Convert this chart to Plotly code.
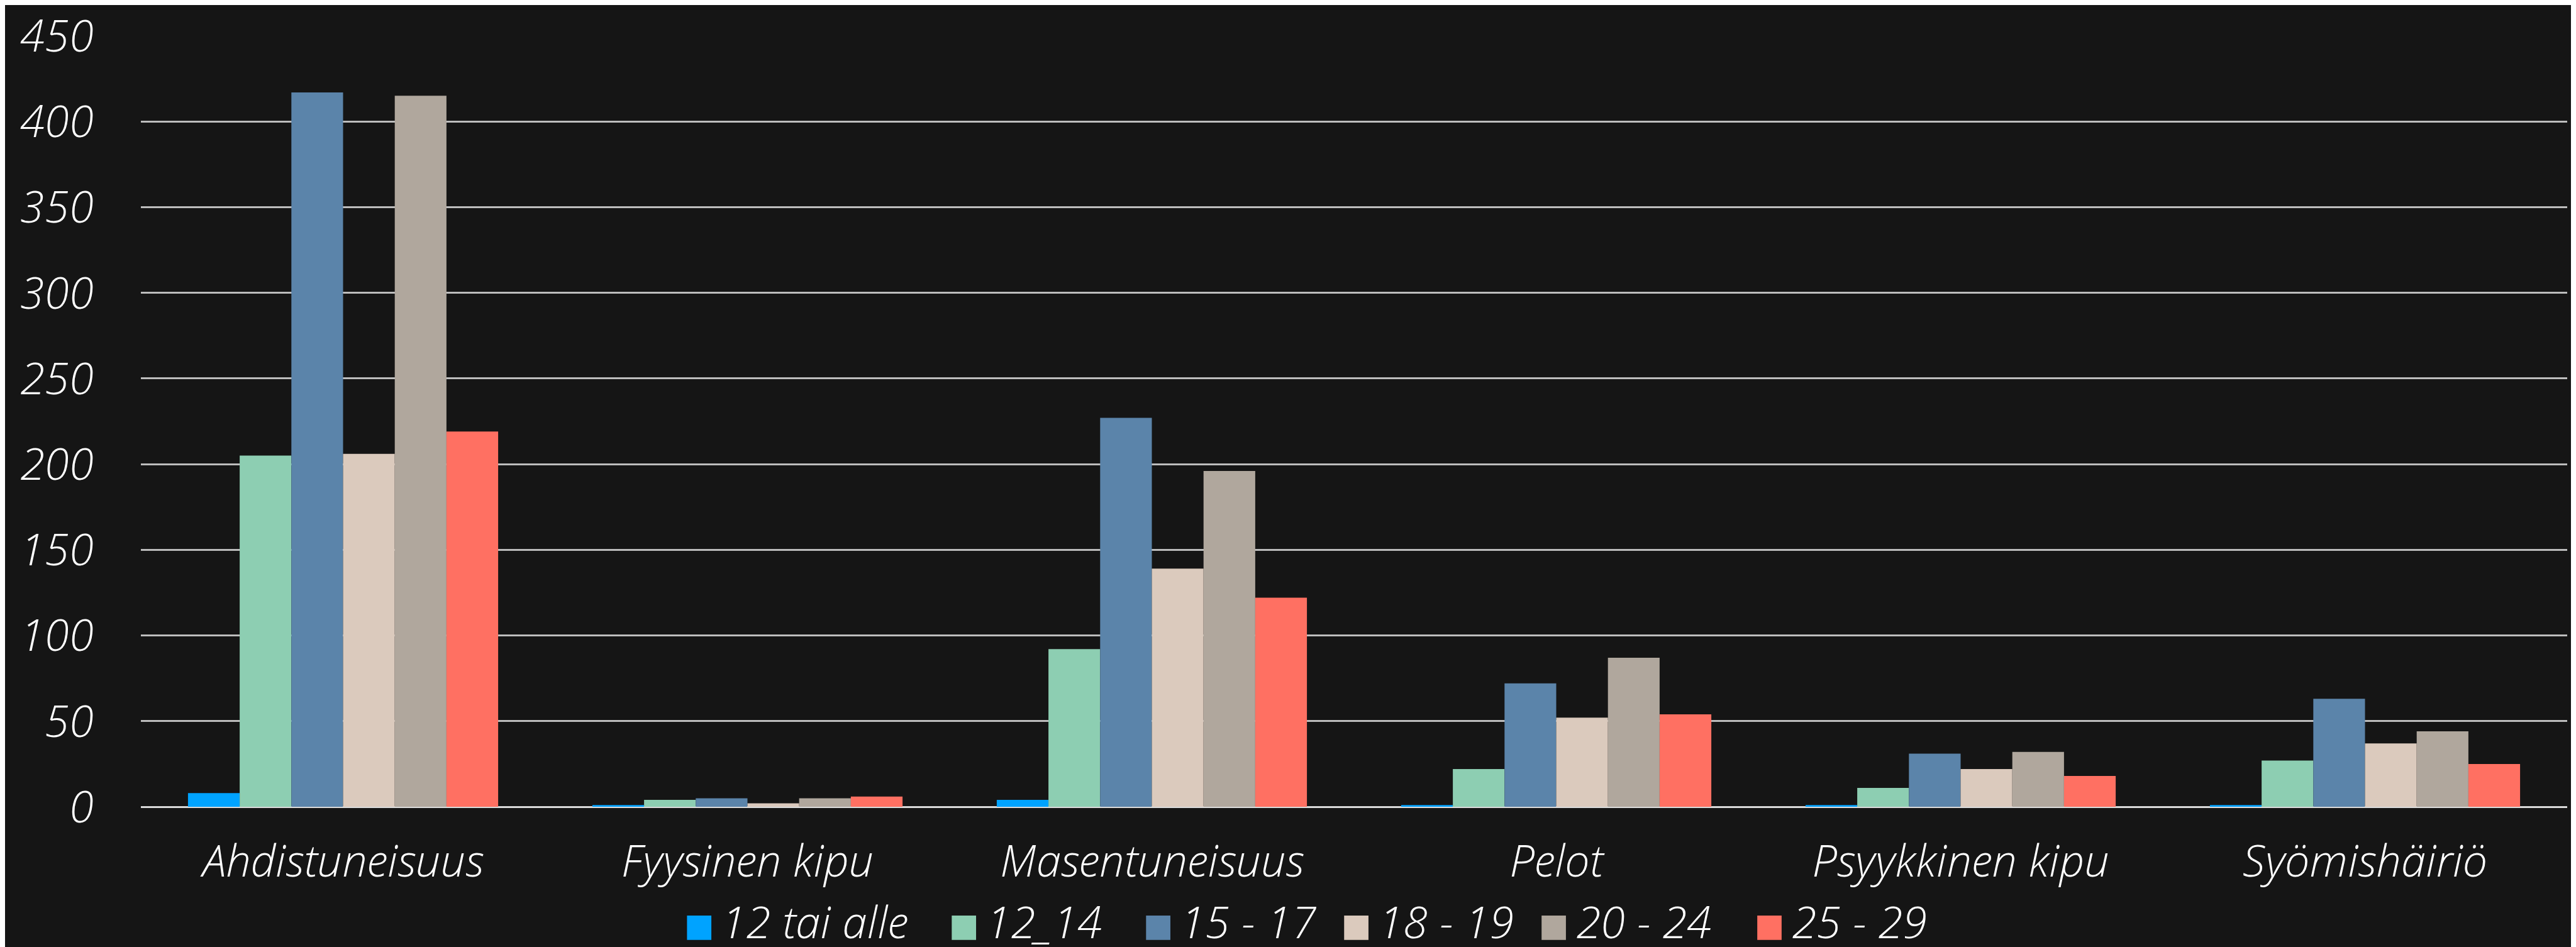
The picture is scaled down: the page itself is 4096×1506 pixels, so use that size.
import plotly.graph_objects as go

categories = ["Ahdistuneisuus", "Fyysinen kipu", "Masentuneisuus", "Pelot", "Psyykkinen kipu", "Syömishäiriö"]
series_names = ["12 tai alle", "12_14", "15 - 17", "18 - 19", "20 - 24", "25 - 29"]
s_12_tai_alle = [8, 1, 4, 1, 1, 1]
s_12_14 = [205, 4, 92, 22, 11, 27]
s_15_17 = [417, 5, 227, 72, 31, 63]
s_18_19 = [206, 2, 139, 52, 22, 37]
s_20_24 = [415, 5, 196, 87, 32, 44]
s_25_29 = [219, 6, 122, 54, 18, 25]
series_values = [s_12_tai_alle, s_12_14, s_15_17, s_18_19, s_20_24, s_25_29]
colors = ["#00A3FF", "#8DCEB2", "#5B84AA", "#DBCABD", "#B0A79D", "#FF7062"]
y_ticks = [0, 50, 100, 150, 200, 250, 300, 350, 400, 450]

W, H = 4096, 1506
ML, MR, MT, MB = 215.5, 22, 49, 231
FONT = dict(family="Open Sans Light, Open Sans, DejaVu Sans Condensed, sans-serif",
            size=71, color="#FFFFFF", style="italic", weight=300)

fig = go.Figure()
for name, vals, col in zip(series_names, series_values, colors):
    fig.add_trace(go.Bar(name=name, x=categories, y=vals, marker=dict(color=col, line=dict(width=0)),
                         showlegend=False))

# custom legend (large square swatches)
plot_w = W - ML - MR
plot_h = H - MT - MB
legend_swatch_px = [1084, 1505, 1814, 2129, 2443, 2786]
sw = 38.7
sw_top, sw_bot = 1448.0, 1486.7
def px_to_paper_x(px):
    return (px - ML) / plot_w
def px_to_paper_y(py):
    return (H - MB - py) / plot_h

shapes = []
annotations = []
for name, col, lx in zip(series_names, colors, legend_swatch_px):
    shapes.append(dict(type="rect", xref="paper", yref="paper",
                       x0=px_to_paper_x(lx), x1=px_to_paper_x(lx + sw),
                       y0=px_to_paper_y(sw_bot), y1=px_to_paper_y(sw_top),
                       fillcolor=col, line=dict(width=0), layer="above"))
    annotations.append(dict(xref="paper", yref="paper", x=px_to_paper_x(lx + sw + 14),
                            y=px_to_paper_y(1456), xanchor="left", yanchor="middle",
                            text=name, showarrow=False, font=FONT))

fig.update_layout(
    width=W, height=H,
    margin=dict(l=ML, r=MR, t=MT, b=MB, pad=0, autoexpand=False),
    paper_bgcolor="#151515", plot_bgcolor="#151515",
    barmode="group", bargap=0.233, bargroupgap=0,
    font=FONT,
    shapes=shapes, annotations=annotations,
    showlegend=False,
)
fig.update_xaxes(showgrid=False, showline=False, ticks="", tickfont=FONT, ticklabelstandoff=39,
                 zeroline=False, automargin=False)
fig.update_yaxes(range=[0, 450], tickvals=y_ticks, showgrid=True, gridcolor="#BDBDBD", gridwidth=2.5,
                 zeroline=True, zerolinecolor="#DADADA", zerolinewidth=3, showline=False, ticks="",
                 tickfont=FONT, ticklabelstandoff=74, ticklabeloverflow="allow", automargin=False)

fig.write_html("out.html")
